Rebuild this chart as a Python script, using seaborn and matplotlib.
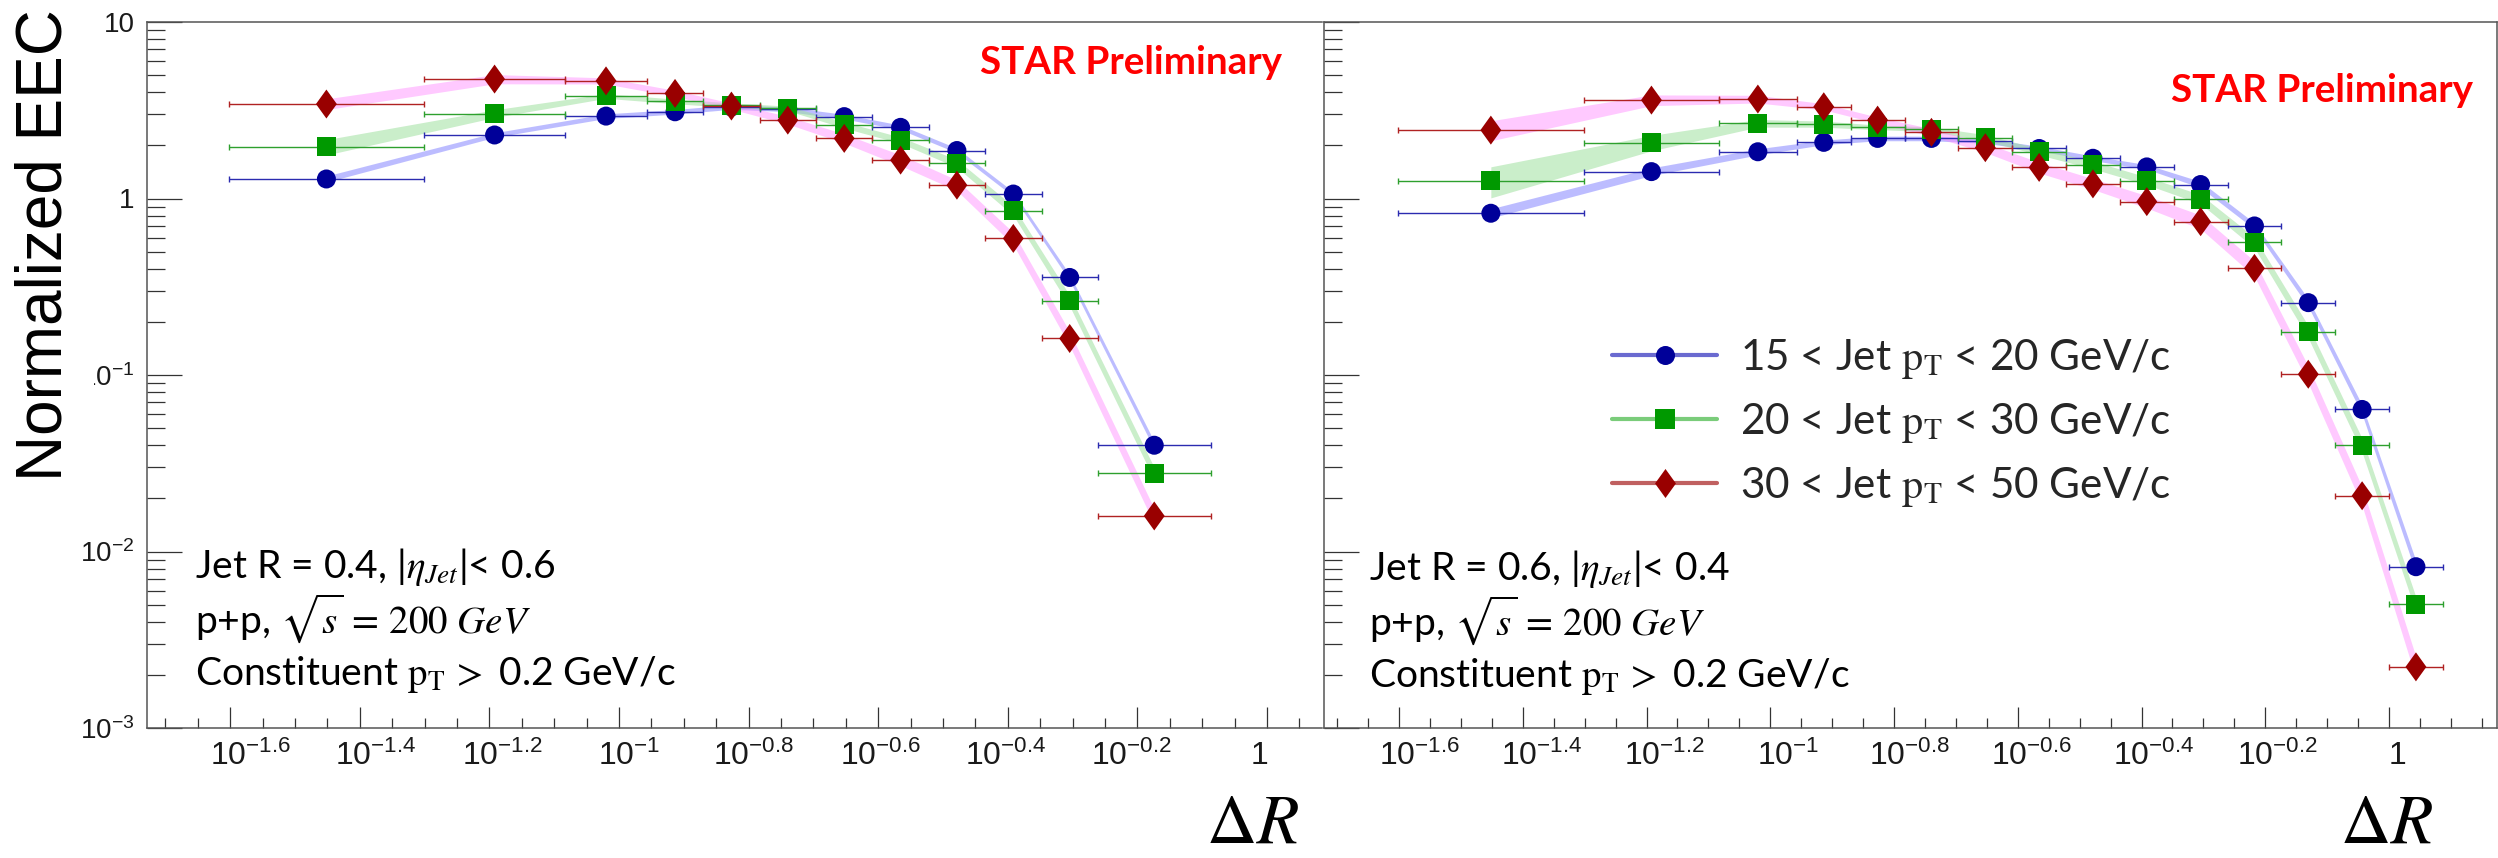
import numpy as np
import pandas as pd
import matplotlib
matplotlib.use("Agg")
import matplotlib.pyplot as plt
import matplotlib.transforms as mtransforms
import seaborn as sns
from matplotlib.path import Path
from matplotlib.lines import Line2D
from matplotlib.ticker import FixedLocator, FixedFormatter, NullFormatter
from matplotlib.font_manager import FontProperties

# ---------------- data ----------------
# Delta R bins (lower / upper edges) for the two jet radii
r04_lo = [0.025, 0.05, 0.0826, 0.1104, 0.1349, 0.1648, 0.2014, 0.2461, 0.3006, 0.3673, 0.4488, 0.5483]
r04_hi = [0.05, 0.0826, 0.1104, 0.1349, 0.1648, 0.2014, 0.2461, 0.3006, 0.3673, 0.4488, 0.5483, 0.8185]
r06_lo = [0.025, 0.05, 0.0826, 0.1104, 0.1349, 0.1648, 0.2014, 0.2461, 0.3006, 0.3673, 0.4488,
          0.5483, 0.6699, 0.8185, 1.0]
r06_hi = [0.05, 0.0826, 0.1104, 0.1349, 0.1648, 0.2014, 0.2461, 0.3006, 0.3673, 0.4488, 0.5483,
          0.6699, 0.8185, 1.0, 1.2218]

# Normalized EEC, R = 0.4
r04_pt15_20 = [1.29, 2.29, 2.93, 3.10, 3.30, 3.20, 2.91, 2.53, 1.87, 1.06, 0.357, 0.040]
r04_pt20_30 = [1.96, 3.03, 3.81, 3.55, 3.38, 3.24, 2.61, 2.14, 1.58, 0.853, 0.264, 0.0277]
r04_pt30_50 = [3.43, 4.75, 4.64, 3.94, 3.34, 2.78, 2.19, 1.65, 1.19, 0.594, 0.161, 0.0159]
# relative systematic uncertainties, R = 0.4
r04_sys15_20 = [0.04, 0.03, 0.03, 0.03, 0.03, 0.03, 0.03, 0.03, 0.03, 0.03, 0.04, 0.05]
r04_sys20_30 = [0.10, 0.05, 0.03, 0.03, 0.03, 0.03, 0.04, 0.04, 0.05, 0.06, 0.07, 0.08]
r04_sys30_50 = [0.07, 0.06, 0.04, 0.04, 0.04, 0.05, 0.06, 0.07, 0.07, 0.08, 0.09, 0.10]

# Normalized EEC, R = 0.6
r06_pt15_20 = [0.825, 1.42, 1.84, 2.08, 2.19, 2.19, 2.12, 1.92, 1.69, 1.51, 1.20, 0.699, 0.257, 0.0638, 0.0082]
r06_pt20_30 = [1.26, 2.07, 2.67, 2.64, 2.53, 2.47, 2.21, 1.84, 1.55, 1.26, 0.993, 0.564, 0.176, 0.0401, 0.00502]
r06_pt30_50 = [2.44, 3.61, 3.66, 3.31, 2.78, 2.37, 1.94, 1.50, 1.21, 0.96, 0.739, 0.402, 0.101, 0.0207, 0.00222]
# relative systematic uncertainties, R = 0.6
r06_sys15_20 = [0.06, 0.05, 0.04, 0.03, 0.03, 0.03, 0.03, 0.03, 0.03, 0.03, 0.04, 0.04, 0.05, 0.06, 0.08]
r06_sys20_30 = [0.20, 0.10, 0.05, 0.04, 0.03, 0.03, 0.04, 0.04, 0.05, 0.05, 0.06, 0.07, 0.08, 0.09, 0.10]
r06_sys30_50 = [0.13, 0.07, 0.05, 0.04, 0.04, 0.05, 0.06, 0.07, 0.07, 0.08, 0.09, 0.10, 0.11, 0.12, 0.14]

series_labels = [r"15 < Jet $\mathrm{p_T}$ < 20 GeV/c",
                 r"20 < Jet $\mathrm{p_T}$ < 30 GeV/c",
                 r"30 < Jet $\mathrm{p_T}$ < 50 GeV/c"]

xtick_exps = [-1.6, -1.4, -1.2, -1.0, -0.8, -0.6, -0.4, -0.2, 0.0]
xtick_labels = [r"$\mathregular{10^{-1.6}}$", r"$\mathregular{10^{-1.4}}$", r"$\mathregular{10^{-1.2}}$",
                r"$\mathregular{10^{-1}}$", r"$\mathregular{10^{-0.8}}$", r"$\mathregular{10^{-0.6}}$",
                r"$\mathregular{10^{-0.4}}$", r"$\mathregular{10^{-0.2}}$", "1"]
ytick_vals = [1e-3, 1e-2, 1e-1, 1, 10]
ytick_labels = [r"$\mathregular{10^{-3}}$", r"$\mathregular{10^{-2}}$", r"$\mathregular{10^{-1}}$", "1", "10"]

# ---------------- style ----------------
sns.set_style("white")
plt.rcParams["font.family"] = ["Liberation Sans", "DejaVu Sans"]
plt.rcParams["mathtext.fontset"] = "stix"

diamond = Path([(0, 1), (0.72, 0), (0, -1), (-0.72, 0), (0, 1)],
               [Path.MOVETO, Path.LINETO, Path.LINETO, Path.LINETO, Path.CLOSEPOLY])

styles = [
    dict(marker="o", s=187, ms=13.7, mcol="#000099", ecol="#2b2bb0", band="#7b7bff",
         balpha=0.5, lcol="#6a6ad0", z=5),
    dict(marker="s", s=187, ms=13.7, mcol="#009900", ecol="#2ea02e", band="#9fe09f",
         balpha=0.55, lcol="#7acc7a", z=6),
    dict(marker=diamond, s=436, ms=20.9, mcol="#990000", ecol="#b02222", band="#ff88ff",
         balpha=0.45, lcol="#c06060", z=7),
]

W, H = 2498, 858
fig = plt.figure(figsize=(W / 100, H / 100), dpi=100)
ax_l = fig.add_axes([147 / W, 1 - 728 / H, (1322 - 147) / W, 706 / H])
ax_r = fig.add_axes([1324 / W, 1 - 728 / H, (2497 - 1324) / W, 706 / H])


def draw_panel(ax, lo, hi, values, sys_err):
    lo = np.asarray(lo)
    hi = np.asarray(hi)
    centers = np.sqrt(lo * hi)
    for vals, rel, st in zip(values, sys_err, styles):
        y = np.asarray(vals)
        r = np.asarray(rel)
        ax.fill_between(centers, y * (1 - r), y * (1 + r), color=st["band"], alpha=st["balpha"],
                        lw=0, zorder=1)
        ax.errorbar(centers, y, xerr=[centers - lo, hi - centers], fmt="none",
                    ecolor=st["ecol"], elinewidth=1.0, capsize=2.5, capthick=1.0, zorder=2)
    for vals, st in zip(values, styles):
        df = pd.DataFrame({"dr": centers, "eec": vals})
        sns.scatterplot(data=df, x="dr", y="eec", marker=st["marker"], s=st["s"],
                        color=st["mcol"], edgecolor="none", linewidth=0, ax=ax,
                        zorder=st["z"], legend=False)


def setup_axes(ax, xlog_lo, xlog_hi, label_shifts_px, show_ylabels):
    ax.set_xscale("log")
    ax.set_yscale("log")
    ax.set_xlim(10 ** xlog_lo, 10 ** xlog_hi)
    ax.set_ylim(1e-3, 10)
    ax.set_xlabel("")
    ax.set_ylabel("")
    ax.xaxis.set_major_locator(FixedLocator([10 ** e for e in xtick_exps]))
    ax.xaxis.set_major_formatter(FixedFormatter(xtick_labels))
    steps = np.arange(-34, 5)
    minor = [10 ** (k * 0.05) for k in steps if k % 4 != 0]
    ax.xaxis.set_minor_locator(FixedLocator(minor))
    ax.xaxis.set_minor_formatter(NullFormatter())
    ax.yaxis.set_major_locator(FixedLocator(ytick_vals))
    ax.yaxis.set_major_formatter(FixedFormatter(ytick_labels if show_ylabels else [""] * 5))
    yminor = [m * 10.0 ** d for d in range(-3, 1) for m in range(2, 10)]
    ax.yaxis.set_minor_locator(FixedLocator(yminor))
    ax.yaxis.set_minor_formatter(NullFormatter())
    ax.tick_params(axis="both", which="both", bottom=True, left=True, top=False, right=False)
    ax.tick_params(axis="x", which="major", direction="in", length=15, width=0.9,
                   color="#333333", pad=9, labelsize=23, labelcolor="#1a1a1a")
    ax.tick_params(axis="x", which="minor", direction="in", length=7, width=0.9, color="#333333")
    ax.tick_params(axis="y", which="major", direction="in", length=25, width=0.9,
                   color="#333333", pad=9, labelsize=20, labelcolor="#1a1a1a")
    ax.tick_params(axis="y", which="minor", direction="in", length=13, width=0.9, color="#333333")
    for sp in ax.spines.values():
        sp.set_color("#555555")
        sp.set_linewidth(1.1)
    for lab, dx in zip(ax.get_xticklabels(), label_shifts_px):
        shift = mtransforms.ScaledTranslation(dx / 100, 0, fig.dpi_scale_trans)
        lab.set_transform(lab.get_transform() + shift)


draw_panel(ax_l, r04_lo, r04_hi, [r04_pt15_20, r04_pt20_30, r04_pt30_50],
           [r04_sys15_20, r04_sys20_30, r04_sys30_50])
draw_panel(ax_r, r06_lo, r06_hi, [r06_pt15_20, r06_pt20_30, r06_pt30_50],
           [r06_sys15_20, r06_sys20_30, r06_sys30_50])
setup_axes(ax_l, -1.7284, 0.0849, [20, 16, 13, 10, 5, 2, -2, -6, -7], True)
setup_axes(ax_r, -1.7212, 0.1745, [21, 19, 18, 18, 16, 14, 12, 12, 8], False)
ax_l.spines["right"].set_visible(False)

# legend in the R = 0.6 panel
handles = [Line2D([], [], color=st["lcol"], lw=3, marker=st["marker"], markersize=st["ms"],
                  markerfacecolor=st["mcol"], markeredgewidth=0) for st in styles]
leg_font = FontProperties(family="Lato", size=30.4, math_fontfamily="stix")
ax_r.legend(handles, series_labels, loc="upper left", prop=leg_font, frameon=False,
            bbox_to_anchor=(1612 / W, 1 - 337 / H), bbox_transform=fig.transFigure,
            borderpad=0, borderaxespad=0, handlelength=2.49, handletextpad=0.55,
            labelspacing=0.47)

# panel annotations
txt_kw = dict(family="Lato", fontsize=28.1, math_fontfamily="stix", color="black",
              ha="left", va="baseline")
for x0, rtxt, etatxt, b0 in [(195, "0.4", "0.6", 578), (1369, "0.6", "0.4", 580)]:
    fig.text(x0 / W, 1 - b0 / H, "Jet R = " + rtxt + r", |$\eta_{Jet}$|< " + etatxt, **txt_kw)
    fig.text(x0 / W, 1 - (b0 + 55) / H, r"p+p, $\sqrt{s}\,=\,200\ GeV$", **txt_kw)
    fig.text(x0 / W, 1 - (b0 + 107) / H, r"Constituent $\mathrm{p_T}\,>$ 0.2 GeV/c", **txt_kw)

for xr, yb in [(1282, 74), (2473, 102)]:
    fig.text(xr / W, 1 - yb / H, "STAR Preliminary", family="Lato", fontweight="bold",
             fontsize=27.8, color="#ff0000", ha="right", va="baseline")

for xc in [1253, 2387]:
    fig.text(xc / W, 1 - 843 / H, r"$\Delta R$", fontsize=50, math_fontfamily="stix",
             ha="center", va="baseline", color="black")

fig.text(45 / W, 1 - 245 / H, "Normalized EEC", rotation=90, fontsize=46,
         family="Liberation Sans", ha="center", va="center", color="black",
         bbox=dict(facecolor="white", edgecolor="none", pad=14))

fig.savefig("out.png", dpi=100)
